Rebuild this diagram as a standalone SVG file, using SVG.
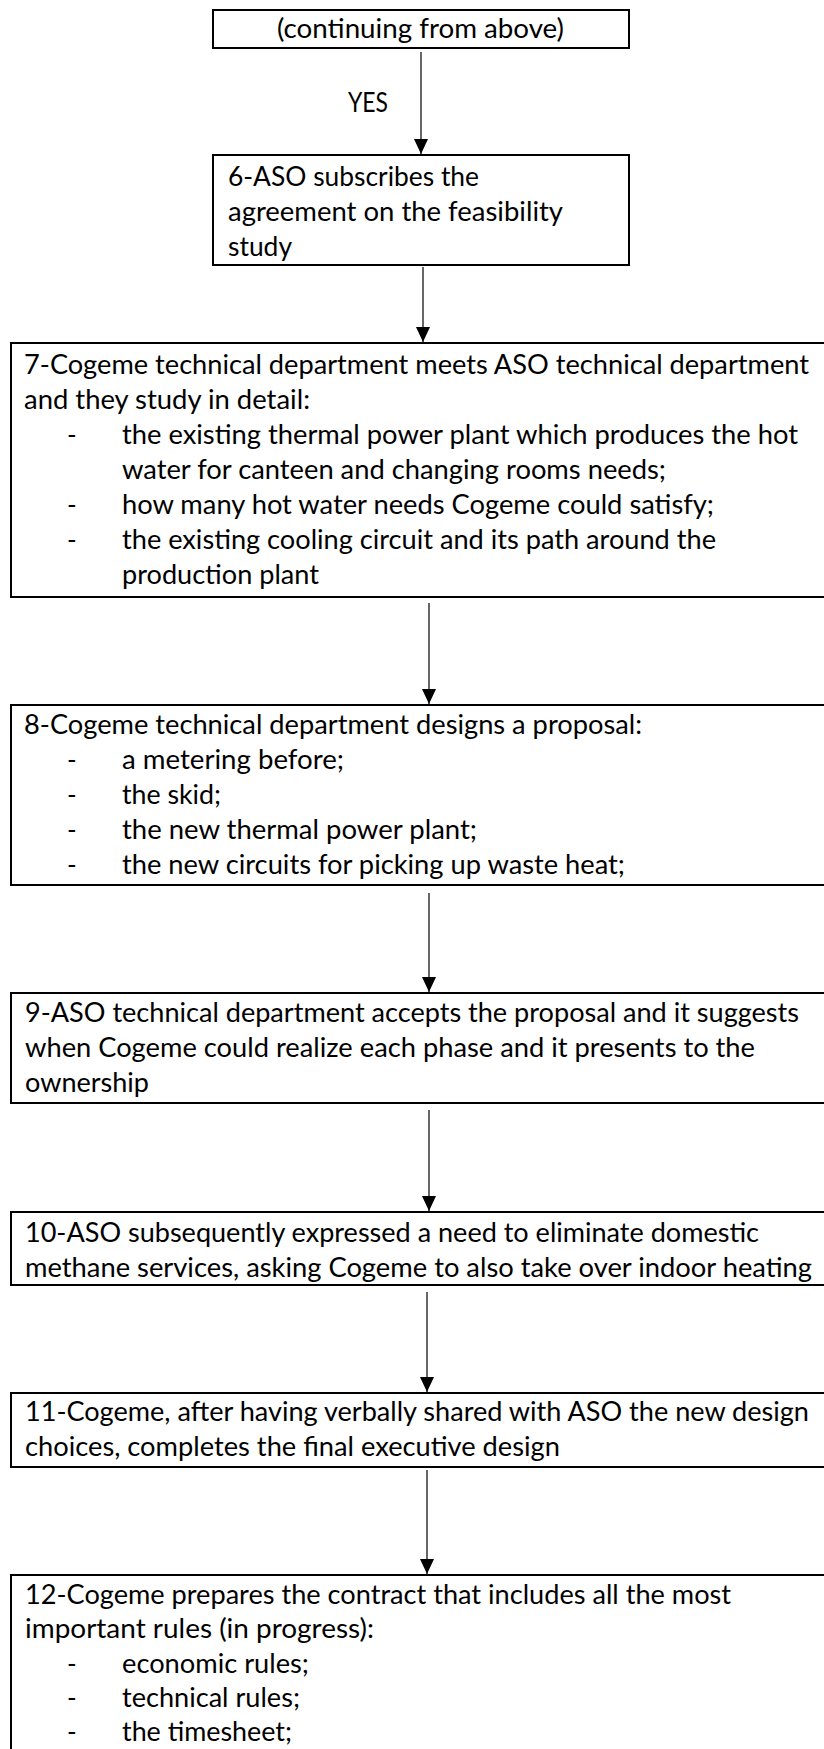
<svg xmlns="http://www.w3.org/2000/svg" width="824" height="1749" viewBox="0 0 824 1749">
<defs>
<style>
.box{fill:#fff;stroke:#000;stroke-width:2}
.t{font-family:Lato,'Liberation Sans',sans-serif;font-size:26px;fill:#000}
.c{stroke:#000;stroke-width:1.2;fill:none}
</style>
<marker id="ah" viewBox="0 0 15 14" refX="15" refY="7" markerWidth="15" markerHeight="14" markerUnits="userSpaceOnUse" orient="auto">
<path d="M0,0 L15,7 L0,14 z" fill="#000"/>
</marker>
</defs>
<rect width="824" height="1749" fill="#fff"/>
<g id="connectors">
<line class="c" x1="421" y1="52" x2="421" y2="154" marker-end="url(#ah)"/>
<text class="t" x="348" y="112" textLength="40" lengthAdjust="spacingAndGlyphs">YES</text>
<line class="c" x1="423" y1="267" x2="423" y2="342" marker-end="url(#ah)"/>
<line class="c" x1="429" y1="603" x2="429" y2="704" marker-end="url(#ah)"/>
<line class="c" x1="429" y1="893" x2="429" y2="992" marker-end="url(#ah)"/>
<line class="c" x1="429" y1="1110" x2="429" y2="1211" marker-end="url(#ah)"/>
<line class="c" x1="427" y1="1292" x2="427" y2="1392" marker-end="url(#ah)"/>
<line class="c" x1="427" y1="1470" x2="427" y2="1574" marker-end="url(#ah)"/>
</g>
<g id="node1">
<rect class="box" x="213" y="10" width="416" height="38"/>
<text class="t" x="420.5" y="38" text-anchor="middle" textLength="287" lengthAdjust="spacingAndGlyphs">(continuing from above)</text>
</g>
<g id="node6">
<rect class="box" x="213" y="155" width="416" height="110"/>
<text class="t" x="228" y="186" textLength="251" lengthAdjust="spacingAndGlyphs">6-ASO subscribes the</text>
<text class="t" x="228" y="221" textLength="335" lengthAdjust="spacingAndGlyphs">agreement on the feasibility</text>
<text class="t" x="228" y="256" textLength="64" lengthAdjust="spacingAndGlyphs">study</text>
</g>
<g id="node7">
<rect class="box" x="11" y="343" width="815" height="254"/>
<text class="t" x="24" y="374" textLength="785" lengthAdjust="spacingAndGlyphs">7-Cogeme technical department meets ASO technical department</text>
<text class="t" x="24" y="409" textLength="286" lengthAdjust="spacingAndGlyphs">and they study in detail:</text>
<text class="t" x="67" y="444">-</text>
<text class="t" x="122" y="444" textLength="676" lengthAdjust="spacingAndGlyphs">the existing thermal power plant which produces the hot</text>
<text class="t" x="122" y="479" textLength="544" lengthAdjust="spacingAndGlyphs">water for canteen and changing rooms needs;</text>
<text class="t" x="67" y="514">-</text>
<text class="t" x="122" y="514" textLength="592" lengthAdjust="spacingAndGlyphs">how many hot water needs Cogeme could satisfy;</text>
<text class="t" x="67" y="549">-</text>
<text class="t" x="122" y="549" textLength="594" lengthAdjust="spacingAndGlyphs">the existing cooling circuit and its path around the</text>
<text class="t" x="122" y="584" textLength="197" lengthAdjust="spacingAndGlyphs">production plant</text>
</g>
<g id="node8">
<rect class="box" x="11" y="705" width="815" height="180"/>
<text class="t" x="24" y="734" textLength="618" lengthAdjust="spacingAndGlyphs">8-Cogeme technical department designs a proposal:</text>
<text class="t" x="67" y="769">-</text>
<text class="t" x="122" y="769" textLength="222" lengthAdjust="spacingAndGlyphs">a metering before;</text>
<text class="t" x="67" y="804">-</text>
<text class="t" x="122" y="804" textLength="99" lengthAdjust="spacingAndGlyphs">the skid;</text>
<text class="t" x="67" y="839">-</text>
<text class="t" x="122" y="839" textLength="355" lengthAdjust="spacingAndGlyphs">the new thermal power plant;</text>
<text class="t" x="67" y="874">-</text>
<text class="t" x="122" y="874" textLength="503" lengthAdjust="spacingAndGlyphs">the new circuits for picking up waste heat;</text>
</g>
<g id="node9">
<rect class="box" x="11" y="993" width="815" height="110"/>
<text class="t" x="25" y="1022" textLength="774" lengthAdjust="spacingAndGlyphs">9-ASO technical department accepts the proposal and it suggests</text>
<text class="t" x="25" y="1057" textLength="730" lengthAdjust="spacingAndGlyphs">when Cogeme could realize each phase and it presents to the</text>
<text class="t" x="25" y="1092" textLength="124" lengthAdjust="spacingAndGlyphs">ownership</text>
</g>
<g id="node10">
<rect class="box" x="11" y="1212" width="815" height="73"/>
<text class="t" x="25" y="1242" textLength="734" lengthAdjust="spacingAndGlyphs">10-ASO subsequently expressed a need to eliminate domestic</text>
<text class="t" x="25" y="1277" textLength="787" lengthAdjust="spacingAndGlyphs">methane services, asking Cogeme to also take over indoor heating</text>
</g>
<g id="node11">
<rect class="box" x="11" y="1393" width="815" height="74"/>
<text class="t" x="25" y="1421" textLength="784" lengthAdjust="spacingAndGlyphs">11-Cogeme, after having verbally shared with ASO the new design</text>
<text class="t" x="25" y="1456" textLength="535" lengthAdjust="spacingAndGlyphs">choices, completes the final executive design</text>
</g>
<g id="node12">
<rect class="box" x="11" y="1575" width="815" height="190"/>
<text class="t" x="25" y="1604" textLength="706" lengthAdjust="spacingAndGlyphs">12-Cogeme prepares the contract that includes all the most</text>
<text class="t" x="25" y="1638" textLength="349" lengthAdjust="spacingAndGlyphs">important rules (in progress):</text>
<text class="t" x="67" y="1673">-</text>
<text class="t" x="122" y="1673" textLength="187" lengthAdjust="spacingAndGlyphs">economic rules;</text>
<text class="t" x="67" y="1707">-</text>
<text class="t" x="122" y="1707" textLength="178" lengthAdjust="spacingAndGlyphs">technical rules;</text>
<text class="t" x="67" y="1741">-</text>
<text class="t" x="122" y="1741" textLength="170" lengthAdjust="spacingAndGlyphs">the timesheet;</text>
</g>
</svg>
